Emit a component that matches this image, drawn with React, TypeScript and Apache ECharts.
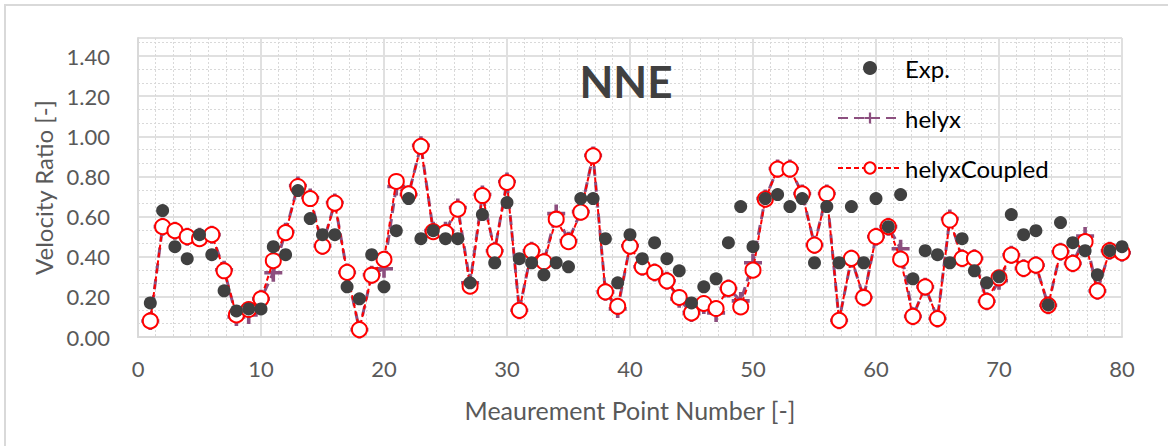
import React, { useEffect, useRef } from "react";
import * as echarts from "echarts";

// Measured velocity ratio at each measurement point (1..80)
const expValues = [
  0.17, 0.63, 0.45, 0.39, 0.51, 0.41, 0.23, 0.13, 0.14, 0.14,
  0.45, 0.41, 0.73, 0.59, 0.51, 0.51, 0.25, 0.19, 0.41, 0.25,
  0.53, 0.69, 0.49, 0.53, 0.49, 0.49, 0.27, 0.61, 0.37, 0.67,
  0.39, 0.37, 0.31, 0.37, 0.35, 0.69, 0.69, 0.49, 0.27, 0.51,
  0.39, 0.47, 0.39, 0.33, 0.17, 0.25, 0.29, 0.47, 0.65, 0.45,
  0.69, 0.71, 0.65, 0.69, 0.37, 0.65, 0.37, 0.65, 0.37, 0.69,
  0.55, 0.71, 0.29, 0.43, 0.41, 0.37, 0.49, 0.33, 0.27, 0.3,
  0.61, 0.51, 0.53, 0.16, 0.57, 0.47, 0.43, 0.31, 0.43, 0.45,
];

// helyx simulation
const helyxValues = [
  0.08, 0.55, 0.53, 0.5, 0.5, 0.51, 0.335, 0.1, 0.11, 0.19,
  0.32, 0.525, 0.755, 0.695, 0.455, 0.67, 0.322, 0.037, 0.31, 0.34,
  0.75, 0.71, 0.955, 0.53, 0.53, 0.645, 0.27, 0.71, 0.43, 0.775,
  0.133, 0.43, 0.375, 0.615, 0.48, 0.625, 0.905, 0.225, 0.14, 0.455,
  0.35, 0.322, 0.28, 0.19, 0.12, 0.16, 0.12, 0.242, 0.18, 0.37,
  0.69, 0.84, 0.84, 0.715, 0.46, 0.715, 0.083, 0.39, 0.197, 0.5,
  0.55, 0.44, 0.103, 0.25, 0.092, 0.59, 0.392, 0.392, 0.178, 0.28,
  0.41, 0.342, 0.358, 0.158, 0.425, 0.367, 0.503, 0.23, 0.43, 0.42,
];

// helyx coupled simulation
const helyxCoupledValues = [
  0.08, 0.55, 0.53, 0.5, 0.49, 0.51, 0.33, 0.11, 0.137, 0.19,
  0.38, 0.52, 0.75, 0.69, 0.453, 0.667, 0.322, 0.037, 0.308, 0.387,
  0.775, 0.713, 0.95, 0.525, 0.52, 0.637, 0.253, 0.705, 0.428, 0.77,
  0.133, 0.428, 0.375, 0.587, 0.475, 0.622, 0.903, 0.225, 0.153, 0.453,
  0.35, 0.322, 0.28, 0.197, 0.12, 0.167, 0.142, 0.242, 0.15, 0.333,
  0.687, 0.837, 0.837, 0.713, 0.458, 0.713, 0.083, 0.392, 0.197, 0.5,
  0.55, 0.388, 0.103, 0.25, 0.092, 0.583, 0.392, 0.392, 0.178, 0.295,
  0.408, 0.342, 0.358, 0.158, 0.425, 0.367, 0.475, 0.23, 0.43, 0.42,
];

const seriesNames = ["Exp.", "helyx", "helyxCoupled"];
const chartTitle = "NNE";
const xAxisTitle = "Meaurement Point Number [-]";
const yAxisTitle = "Velocity Ratio [-]";

const FONT = "Lato, 'Noto Sans', sans-serif";
const PLUS = "path://M4,0H6V4H10V6H6V10H4V6H0V4H4Z";

const toPairs = (vals: number[]) => vals.map((v, i) => [i + 1, v]);

export default function App() {
  const ref = useRef<HTMLDivElement>(null);

  useEffect(() => {
    if (!ref.current) return;
    const chart = echarts.init(ref.current, null, { renderer: "svg" });
    chart.setOption({
      animation: false,
      backgroundColor: "#ffffff",
      textStyle: { fontFamily: FONT },
      grid: { left: 138, right: 46, top: 38, bottom: 109, containLabel: false },
      graphic: [
        {
          type: "rect",
          shape: { x: 5, y: 5, width: 1300, height: 600 },
          style: { fill: "none", stroke: "#d9d9d9", lineWidth: 2 },
          silent: true,
          z: -10,
        },
        {
          type: "text",
          x: 626,
          y: 81,
          style: {
            text: chartTitle,
            fontFamily: FONT,
            fontWeight: "bold",
            fontSize: 44,
            fill: "#404040",
            align: "center",
            verticalAlign: "middle",
          },
          z: 10,
        },
      ],
      legend: {
        orient: "vertical",
        left: 837,
        top: 56,
        padding: 0,
        itemWidth: 64,
        itemHeight: 14,
        itemGap: 26,
        data: seriesNames,
        textStyle: { fontFamily: FONT, fontSize: 24, color: "#000000", padding: [0, 0, 0, -2] },
      },
      xAxis: {
        type: "value",
        min: 0,
        max: 80,
        interval: 10,
        name: xAxisTitle,
        nameLocation: "middle",
        nameGap: 60,
        nameTextStyle: { fontFamily: FONT, fontSize: 25, color: "#595959" },
        axisLine: { show: true, lineStyle: { color: "#d9d9d9", width: 2 } },
        axisTick: { show: false },
        axisLabel: { fontFamily: FONT, fontSize: 22, color: "#595959", margin: 20 },
        splitLine: { show: true, lineStyle: { color: "#e0e0e0", width: 2 } },
        minorTick: { show: false, splitNumber: 7 },
        minorSplitLine: { show: true, lineStyle: { color: "#d9d9d9", type: [2, 2], width: 1 } },
      },
      yAxis: {
        type: "value",
        min: 0,
        max: 1.49,
        interval: 0.2,
        name: yAxisTitle,
        nameLocation: "middle",
        nameGap: 82,
        nameTextStyle: { fontFamily: FONT, fontSize: 24, color: "#595959" },
        axisLine: { show: true, lineStyle: { color: "#d9d9d9", width: 2 } },
        axisTick: { show: false },
        axisLabel: {
          fontFamily: FONT,
          fontSize: 22,
          color: "#595959",
          margin: 28,
          showMaxLabel: false,
          formatter: (v: number) => v.toFixed(2),
        },
        splitLine: { show: true, lineStyle: { color: "#e0e0e0", width: 2 } },
        minorTick: { show: false, splitNumber: 3 },
        minorSplitLine: { show: true, lineStyle: { color: "#d9d9d9", type: [2, 2], width: 1 } },
      },
      series: [
        {
          name: "helyx",
          type: "line",
          data: toPairs(helyxValues),
          symbol: PLUS,
          symbolSize: 18,
          itemStyle: { color: "#8c4f7f" },
          lineStyle: { color: "#8c4f7f", width: 3, type: [10, 6] },
          z: 2,
        },
        {
          name: "helyxCoupled",
          type: "line",
          data: toPairs(helyxCoupledValues),
          symbol: "emptyCircle",
          symbolSize: 15,
          itemStyle: { color: "#ff0000", borderColor: "#ff0000", borderWidth: 3 },
          lineStyle: { color: "#ff0000", width: 2, type: [5, 3] },
          z: 3,
        },
        {
          name: "Exp.",
          type: "scatter",
          data: toPairs(expValues),
          symbol: "circle",
          symbolSize: 13,
          itemStyle: { color: "#404040", opacity: 1 },
          z: 4,
        },
      ],
    });
    return () => chart.dispose();
  }, []);

  return (
    <div
      ref={ref}
      style={{ position: "fixed", left: 0, top: 0, width: 1168, height: 446, background: "#fff" }}
    />
  );
}
